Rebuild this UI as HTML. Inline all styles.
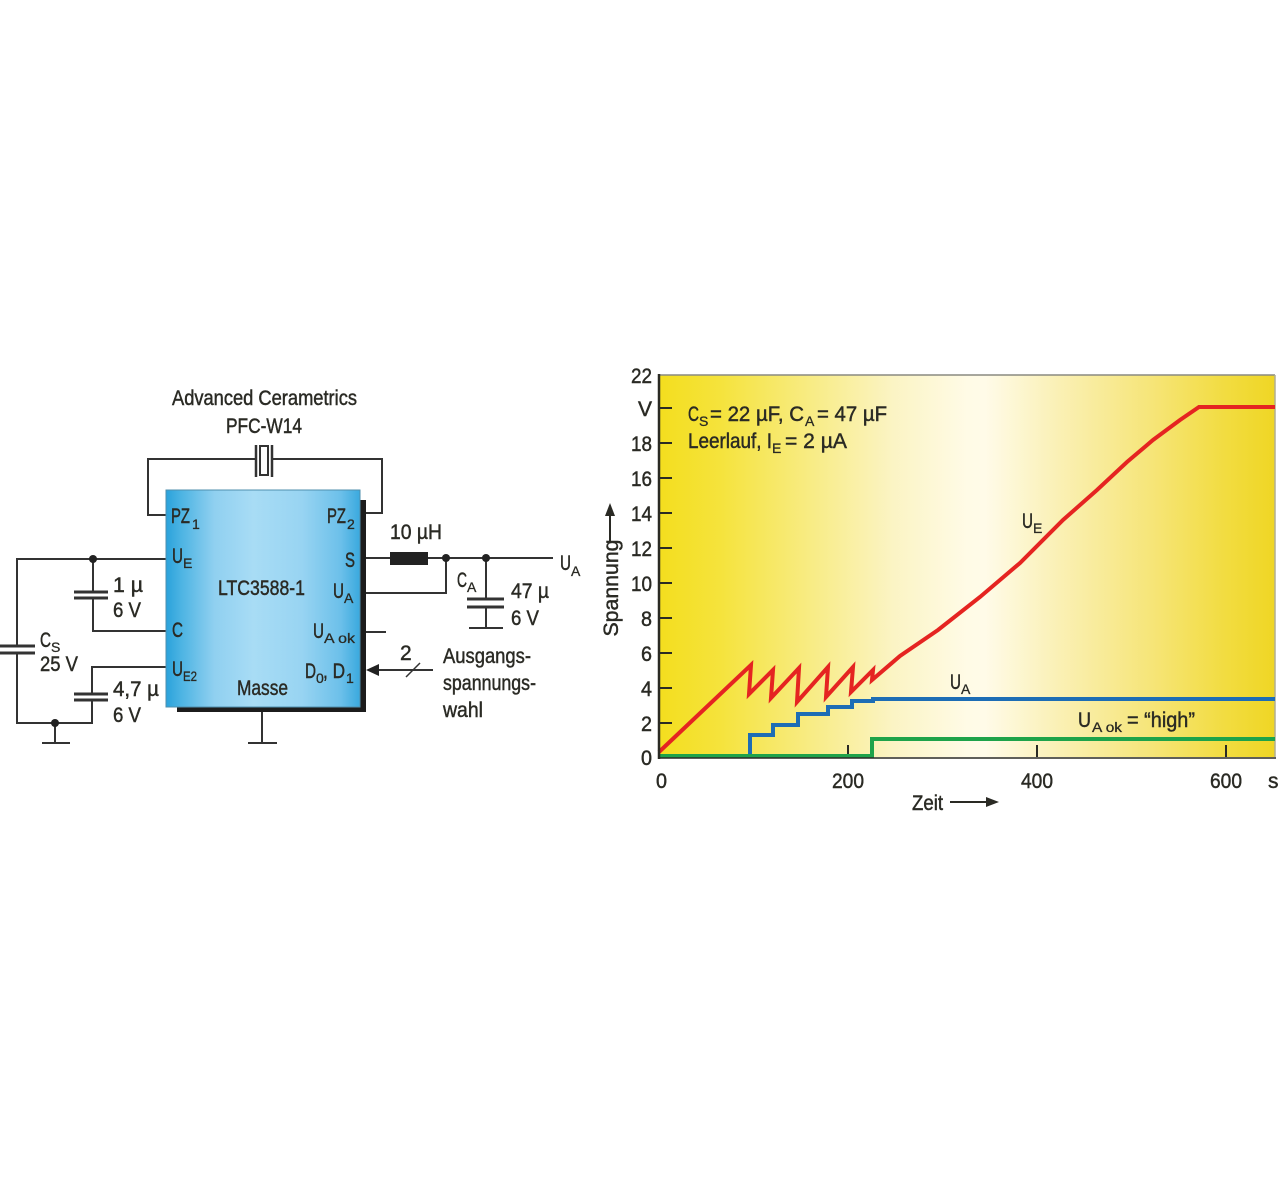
<!DOCTYPE html>
<html>
<head>
<meta charset="utf-8">
<style>
html,body{margin:0;padding:0;background:#fff;}
svg{display:block;}
text{font-family:"Liberation Sans Narrow","Liberation Sans",sans-serif;fill:#2a2a24;font-size:21px;stroke:#2a2a24;stroke-width:0.45px;}
.s{font-size:14px;stroke-width:0.3px;}
</style>
</head>
<body>
<svg width="1280" height="1190" viewBox="0 0 1280 1190" xmlns="http://www.w3.org/2000/svg">
<defs>
<linearGradient id="bg" x1="659" y1="0" x2="1275" y2="0" gradientUnits="userSpaceOnUse">
<stop offset="0" stop-color="#f4de1e"/>
<stop offset="0.1" stop-color="#f5e33c"/>
<stop offset="0.25" stop-color="#f8ec86"/>
<stop offset="0.38" stop-color="#fbf4c4"/>
<stop offset="0.5" stop-color="#fffbe6"/>
<stop offset="0.53" stop-color="#fffbe8"/>
<stop offset="0.65" stop-color="#faf0b4"/>
<stop offset="0.8" stop-color="#f6e578"/>
<stop offset="0.92" stop-color="#f2dc40"/>
<stop offset="1" stop-color="#efd624"/>
</linearGradient>
<linearGradient id="chip" x1="166" y1="0" x2="360" y2="0" gradientUnits="userSpaceOnUse">
<stop offset="0" stop-color="#2aa2db"/>
<stop offset="0.08" stop-color="#4db4e3"/>
<stop offset="0.25" stop-color="#90d0f0"/>
<stop offset="0.45" stop-color="#a8dcf5"/>
<stop offset="0.7" stop-color="#98d4f2"/>
<stop offset="0.9" stop-color="#6cc0ea"/>
<stop offset="1" stop-color="#3aa9de"/>
</linearGradient>
</defs>

<!-- ================= SCHEMATIC ================= -->
<text x="172" y="405" font-size="23" textLength="185" lengthAdjust="spacingAndGlyphs">Advanced Cerametrics</text>
<text x="226" y="433" font-size="23" textLength="76" lengthAdjust="spacingAndGlyphs">PFC-W14</text>

<g stroke="#333" stroke-width="2" fill="none">
  <path d="M166,515 L148,515 L148,459 L256,459"/>
  <path d="M272,459 L382,459 L382,513 L360,513"/>
  <line x1="256" y1="445" x2="256" y2="477" stroke-width="2.5"/>
  <rect x="260" y="446" width="8" height="29"/>
  <line x1="272" y1="445" x2="272" y2="477" stroke-width="2.5"/>
  <path d="M166,559 L17,559 L17,646"/>
  <path d="M17,653 L17,723 L92,723 L92,700"/>
  <path d="M93,559 L93,592"/>
  <path d="M93,598 L93,631 L166,631"/>
  <path d="M166,667 L92,667 L92,694"/>
  <path d="M55,723 L55,743"/>
  <path d="M42,743 L70,743"/>
  <path d="M262,712 L262,743"/>
  <path d="M248,743 L277,743"/>
  <path d="M366,558 L390,558"/>
  <path d="M428,558 L553,558"/>
  <path d="M366,593 L446,593 L446,558"/>
  <path d="M486,558 L486,599"/>
  <path d="M486,607 L486,628"/>
  <path d="M469,628 L503,628"/>
  <path d="M366,632 L386,632"/>
  <path d="M433,670 L376,670"/>
  <path d="M406,677 L420,663" stroke-width="1.5"/>
</g>
<g stroke="#333" stroke-width="3">
  <line x1="0" y1="646" x2="35" y2="646"/>
  <line x1="0" y1="653" x2="35" y2="653"/>
  <line x1="74" y1="592" x2="108" y2="592"/>
  <line x1="74" y1="598" x2="108" y2="598"/>
  <line x1="74" y1="694" x2="108" y2="694"/>
  <line x1="74" y1="700" x2="108" y2="700"/>
  <line x1="467" y1="599" x2="504" y2="599"/>
  <line x1="467" y1="607" x2="504" y2="607"/>
</g>
<rect x="390" y="552" width="38" height="13" fill="#222"/>
<polygon points="366,670 379,664 379,676" fill="#222"/>
<g fill="#222">
  <circle cx="93" cy="559" r="4"/>
  <circle cx="55" cy="723" r="4"/>
  <circle cx="446" cy="558" r="4"/>
  <circle cx="486" cy="558" r="4"/>
</g>

<rect x="177" y="500" width="189" height="212" fill="#1c1c1c"/>
<rect x="166" y="490" width="194" height="217" fill="url(#chip)" stroke="#4f8fae" stroke-width="1"/>

<text x="171" y="523" textLength="19" lengthAdjust="spacingAndGlyphs">PZ</text>
<text class="s" x="192" y="529">1</text>
<text x="172" y="563" textLength="11" lengthAdjust="spacingAndGlyphs">U</text>
<text class="s" x="183" y="568">E</text>
<text x="172" y="637" textLength="11" lengthAdjust="spacingAndGlyphs">C</text>
<text x="172" y="676" textLength="11" lengthAdjust="spacingAndGlyphs">U</text>
<text class="s" x="183" y="681" textLength="14" lengthAdjust="spacingAndGlyphs">E2</text>

<text x="327" y="523" textLength="19" lengthAdjust="spacingAndGlyphs">PZ</text>
<text class="s" x="347" y="529">2</text>
<text x="345" y="567" textLength="10" lengthAdjust="spacingAndGlyphs">S</text>
<text x="333" y="598" textLength="11" lengthAdjust="spacingAndGlyphs">U</text>
<text class="s" x="344" y="603">A</text>
<text x="313" y="638" textLength="11" lengthAdjust="spacingAndGlyphs">U</text>
<text class="s" x="324" y="643" textLength="31" lengthAdjust="spacingAndGlyphs">A ok</text>
<text x="305" y="678" textLength="11" lengthAdjust="spacingAndGlyphs">D</text>
<text class="s" x="316" y="683">0</text>
<text x="323" y="678" textLength="22" lengthAdjust="spacingAndGlyphs">, D</text>
<text class="s" x="346" y="683">1</text>

<text x="218" y="595" textLength="87" lengthAdjust="spacingAndGlyphs">LTC3588-1</text>
<text x="237" y="695" textLength="51" lengthAdjust="spacingAndGlyphs">Masse</text>

<text x="113" y="592" textLength="30" lengthAdjust="spacingAndGlyphs">1 µ</text>
<text x="113" y="617" textLength="28" lengthAdjust="spacingAndGlyphs">6 V</text>
<text x="40" y="647" textLength="11" lengthAdjust="spacingAndGlyphs">C</text>
<text class="s" x="51" y="652">S</text>
<text x="40" y="671" textLength="38" lengthAdjust="spacingAndGlyphs">25 V</text>
<text x="113" y="696" textLength="46" lengthAdjust="spacingAndGlyphs">4,7 µ</text>
<text x="113" y="722" textLength="28" lengthAdjust="spacingAndGlyphs">6 V</text>

<text x="390" y="539" textLength="52" lengthAdjust="spacingAndGlyphs">10 µH</text>
<text x="560" y="570" textLength="11" lengthAdjust="spacingAndGlyphs">U</text>
<text class="s" x="571" y="576">A</text>
<text x="457" y="587" textLength="10" lengthAdjust="spacingAndGlyphs">C</text>
<text class="s" x="467" y="592">A</text>
<text x="511" y="598" textLength="38" lengthAdjust="spacingAndGlyphs">47 µ</text>
<text x="511" y="625" textLength="28" lengthAdjust="spacingAndGlyphs">6 V</text>
<text x="400" y="660">2</text>
<text x="443" y="663" textLength="88" lengthAdjust="spacingAndGlyphs">Ausgangs-</text>
<text x="443" y="690" textLength="93" lengthAdjust="spacingAndGlyphs">spannungs-</text>
<text x="443" y="717" textLength="40" lengthAdjust="spacingAndGlyphs">wahl</text>

<!-- ================= CHART ================= -->
<rect x="659" y="375" width="616" height="382" fill="url(#bg)"/>
<line x1="659" y1="375" x2="1275" y2="375" stroke="#8a8a80" stroke-width="1.5"/>
<line x1="1275" y1="375" x2="1275" y2="757" stroke="#b0ad90" stroke-width="1.5"/>

<g stroke="#2a2a24" stroke-width="2">
  <line x1="659" y1="408" x2="672" y2="408"/>
  <line x1="659" y1="443" x2="672" y2="443"/>
  <line x1="659" y1="478" x2="672" y2="478"/>
  <line x1="659" y1="513" x2="672" y2="513"/>
  <line x1="659" y1="548" x2="672" y2="548"/>
  <line x1="659" y1="583" x2="672" y2="583"/>
  <line x1="659" y1="618" x2="672" y2="618"/>
  <line x1="659" y1="653" x2="672" y2="653"/>
  <line x1="659" y1="688" x2="672" y2="688"/>
  <line x1="659" y1="723" x2="672" y2="723"/>
  <line x1="848" y1="745" x2="848" y2="757"/>
  <line x1="1037" y1="745" x2="1037" y2="757"/>
  <line x1="1226" y1="745" x2="1226" y2="757"/>
</g>

<path d="M659,752 L751,665 L749,694 L773,670 L771,698 L799,668 L797,702 L828,667 L826,697 L853,667 L851,692 L873,670 L872,680 L900,656 L938,630 L980,597 L1020,563 L1063,520 L1097,490 L1127,462 L1153,440 L1180,420 L1199,407 L1275,407" fill="none" stroke="#e52421" stroke-width="4" stroke-linejoin="miter"/>
<path d="M750,757 L750,735 L773,735 L773,725 L798,725 L798,714 L828,714 L828,707 L852,707 L852,701 L873,701 L873,699 L1275,699" fill="none" stroke="#1d6db5" stroke-width="4"/>
<path d="M659,756 L872,756 L872,739 L1275,739" fill="none" stroke="#1ea34a" stroke-width="4"/>

<line x1="659" y1="374" x2="659" y2="759" stroke="#2a2a24" stroke-width="2.5"/>
<line x1="658" y1="758" x2="1276" y2="758" stroke="#2a2a24" stroke-width="1.5"/>

<g text-anchor="end">
  <text x="652" y="383" font-size="22" textLength="21" lengthAdjust="spacingAndGlyphs">22</text>
  <text x="652" y="416" font-size="22">V</text>
  <text x="652" y="451" font-size="22" textLength="21" lengthAdjust="spacingAndGlyphs">18</text>
  <text x="652" y="486" font-size="22" textLength="21" lengthAdjust="spacingAndGlyphs">16</text>
  <text x="652" y="521" font-size="22" textLength="21" lengthAdjust="spacingAndGlyphs">14</text>
  <text x="652" y="556" font-size="22" textLength="21" lengthAdjust="spacingAndGlyphs">12</text>
  <text x="652" y="591" font-size="22" textLength="21" lengthAdjust="spacingAndGlyphs">10</text>
  <text x="652" y="626" font-size="22" textLength="11" lengthAdjust="spacingAndGlyphs">8</text>
  <text x="652" y="661" font-size="22" textLength="11" lengthAdjust="spacingAndGlyphs">6</text>
  <text x="652" y="696" font-size="22" textLength="11" lengthAdjust="spacingAndGlyphs">4</text>
  <text x="652" y="731" font-size="22" textLength="11" lengthAdjust="spacingAndGlyphs">2</text>
  <text x="652" y="765" font-size="22" textLength="11" lengthAdjust="spacingAndGlyphs">0</text>
</g>

<text x="656" y="788" font-size="22" textLength="11" lengthAdjust="spacingAndGlyphs">0</text>
<text x="832" y="788" font-size="22" textLength="32" lengthAdjust="spacingAndGlyphs">200</text>
<text x="1021" y="788" font-size="22" textLength="32" lengthAdjust="spacingAndGlyphs">400</text>
<text x="1210" y="788" font-size="22" textLength="32" lengthAdjust="spacingAndGlyphs">600</text>
<text x="1268" y="788" font-size="22">s</text>

<text x="912" y="810" font-size="22" textLength="31" lengthAdjust="spacingAndGlyphs">Zeit</text>
<line x1="950" y1="802" x2="988" y2="802" stroke="#2a2a24" stroke-width="2"/>
<polygon points="999,802 986,797 986,807" fill="#2a2a24"/>

<text transform="translate(618,588) rotate(-90)" text-anchor="middle" font-size="22" textLength="97" lengthAdjust="spacingAndGlyphs">Spannung</text>
<line x1="610" y1="542" x2="610" y2="514" stroke="#2a2a24" stroke-width="2"/>
<polygon points="610,503 605,516 615,516" fill="#2a2a24"/>

<text x="688" y="421" textLength="11" lengthAdjust="spacingAndGlyphs">C</text>
<text class="s" x="699" y="426">S</text>
<text x="710" y="421" textLength="94" lengthAdjust="spacingAndGlyphs">= 22 µF, C</text>
<text class="s" x="805" y="426">A</text>
<text x="817" y="421" textLength="70" lengthAdjust="spacingAndGlyphs">= 47 µF</text>

<text x="688" y="448" textLength="84" lengthAdjust="spacingAndGlyphs">Leerlauf, I</text>
<text class="s" x="772" y="453">E</text>
<text x="785" y="448" textLength="62" lengthAdjust="spacingAndGlyphs">= 2 µA</text>

<text x="1022" y="528" textLength="11" lengthAdjust="spacingAndGlyphs">U</text>
<text class="s" x="1033" y="533">E</text>
<text x="950" y="689" textLength="11" lengthAdjust="spacingAndGlyphs">U</text>
<text class="s" x="961" y="694">A</text>
<text x="1078" y="727" textLength="13" lengthAdjust="spacingAndGlyphs">U</text>
<text class="s" x="1092" y="732" textLength="30" lengthAdjust="spacingAndGlyphs">A ok</text>
<text x="1127" y="727" textLength="68" lengthAdjust="spacingAndGlyphs">= “high”</text>
</svg>
</body>
</html>
